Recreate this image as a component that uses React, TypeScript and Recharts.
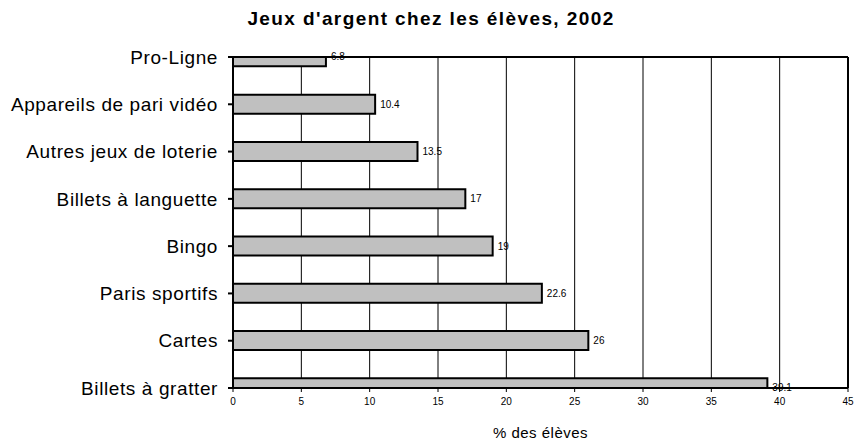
import { BarChart, Bar, XAxis, YAxis, CartesianGrid, LabelList, ReferenceLine } from "recharts";

const categories = [
  "Pro-Ligne",
  "Appareils de pari vidéo",
  "Autres jeux de loterie",
  "Billets à languette",
  "Bingo",
  "Paris sportifs",
  "Cartes",
  "Billets à gratter",
];
const values = [6.8, 10.4, 13.5, 17, 19, 22.6, 26, 39.1];
const xTicks = [0, 5, 10, 15, 20, 25, 30, 35, 40, 45];

const data = categories.map((name, i) => ({ name, value: values[i] }));

const font = "'Liberation Sans', Arial, sans-serif";

export default function App() {
  return (
    <div style={{ position: "absolute", left: 0, top: 0, width: 854, height: 440, background: "#fff", fontFamily: font }}>
      <div
        style={{
          position: "absolute",
          top: 8,
          left: 0,
          width: 862,
          textAlign: "center",
          fontWeight: "bold",
          fontSize: 19,
          letterSpacing: 1.4,
        }}
      >
        Jeux d'argent chez les élèves, 2002
      </div>
      <BarChart
        width={854}
        height={440}
        data={data}
        layout="vertical"
        margin={{ top: 57, right: 6, bottom: 0, left: 0 }}
      >
        <CartesianGrid horizontal={false} stroke="#000" strokeWidth={1} />
        <XAxis
          type="number"
          domain={[0, 45]}
          ticks={xTicks}
          interval={0}
          height={52}
          tickSize={4}
          tickMargin={6}
          tick={{ fontSize: 10, fill: "#000", fontFamily: font }}
          axisLine={{ stroke: "#000", strokeWidth: 2 }}
          tickLine={{ stroke: "#000" }}
          label={{ value: "% des élèves", position: "insideBottom", offset: 2, fontSize: 15, fill: "#000", fontFamily: font, letterSpacing: 0.5 }}
        />
        <YAxis
          type="category"
          dataKey="name"
          scale="point"
          width={233}
          allowDataOverflow
          interval={0}
          tickSize={5}
          tickMargin={10}
          tick={{ fontSize: 19, fill: "#000", fontFamily: font, letterSpacing: 0.6 }}
          axisLine={{ stroke: "#000", strokeWidth: 2 }}
          tickLine={{ stroke: "#000", strokeWidth: 2 }}
        />
        <ReferenceLine y="Pro-Ligne" stroke="#000" strokeWidth={2} />
        <ReferenceLine x={45} stroke="#000" strokeWidth={2} />
        <Bar dataKey="value" fill="#c0c0c0" stroke="#000" strokeWidth={2} barSize={19} isAnimationActive={false}>
          <LabelList dataKey="value" position="right" offset={5} fontSize={10} fill="#000" fontFamily={font} />
        </Bar>
      </BarChart>
    </div>
  );
}
